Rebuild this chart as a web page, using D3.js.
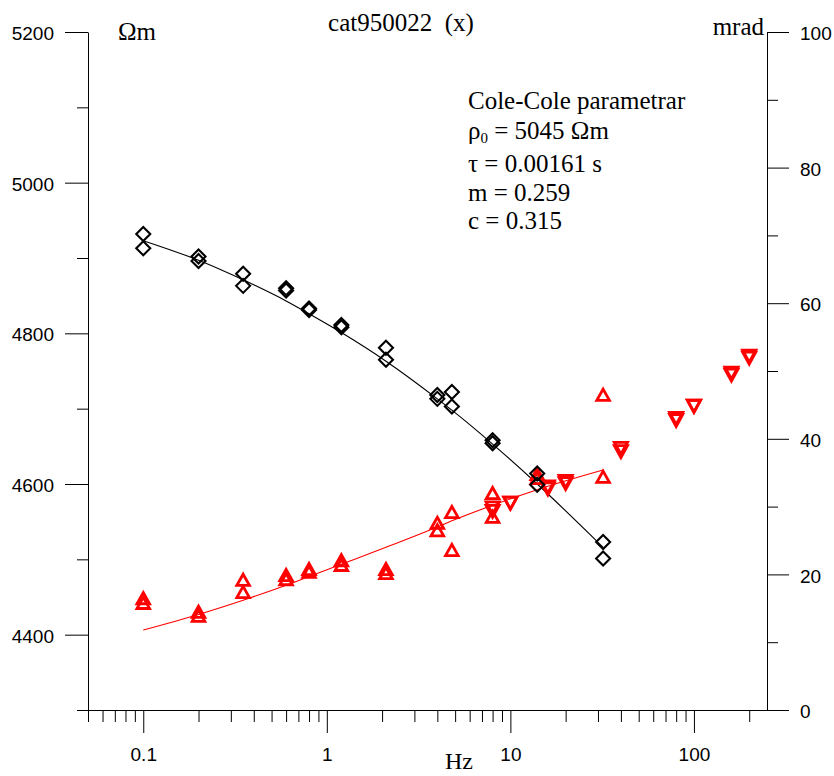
<!DOCTYPE html>
<html>
<head>
<meta charset="utf-8">
<script src="https://cdn.jsdelivr.net/npm/d3@7"></script>
<style>
  html, body { margin: 0; padding: 0; background: #fff; }
  svg { display: block; }
  .serif { font-family: "Liberation Serif", "Times New Roman", serif; }
  .tick text { font-family: "Liberation Sans", Arial, sans-serif; font-size: 19px; fill: #000; }
</style>
</head>
<body>
<svg id="chart" width="834" height="776"></svg>
<script>
// Measured frequencies (Hz) for the low-frequency sweep
const freqLow = [0.1, 0.2, 0.35, 0.6, 0.8, 1.2, 2.1, 4, 4.8, 8, 14, 32];
// Apparent resistivity (ohm-m), two readings per frequency
const rhoA = [4932, 4902, 4879, 4860, 4833, 4811, 4781, 4718, 4722, 4658, 4614, 4523];
const rhoB = [4913, 4896, 4863, 4857, 4831, 4808, 4765, 4713, 4703, 4654, 4599, 4501];
// Phase (mrad), two readings per frequency
const phaseUpA = [16.5, 14.5, 19.2, 19.9, 20.8, 22.1, 20.8, 27.6, 29.2, 32.0, 34.8, 46.5];
const phaseUpB = [15.8, 13.9, 17.4, 19.3, 20.4, 21.4, 20.2, 26.5, 23.6, 28.5, 34.2, 34.4];
// High-frequency sweep, phase only (mrad)
const freqHigh = [8, 10, 16, 20, 40, 80, 100, 160, 200];
const phaseDownA = [29.8, 30.5, 32.9, 33.7, 38.6, 43.0, 44.8, 49.7, 52.2];
const phaseDownB = [29.3, 30.5, 32.6, 33.4, 38.1, 42.7, 44.8, 49.4, 51.9];
// Cole-Cole fitted curve
const fitFreq = [0.1, 0.2, 0.35, 0.6, 0.8, 1.2, 2.1, 4, 4.8, 8, 14, 32];
const fitRho = [4923, 4897, 4871, 4843, 4826, 4801, 4763, 4713, 4698, 4653, 4600, 4516];
const fitPhase = [11.8, 14.1, 16.2, 18.4, 19.7, 21.5, 24.0, 27.0, 27.9, 30.2, 32.5, 35.4];
// Axis ticks
const xMajor = [0.1, 1, 10, 100];
const xMajorLabels = ["0.1", "1", "10", "100"];
const xMinor = [0.05, 0.06, 0.07, 0.08, 0.09, 0.2, 0.3, 0.4, 0.5, 0.6, 0.7, 0.8, 0.9,
                2, 3, 4, 5, 6, 7, 8, 9, 20, 30, 40, 50, 60, 70, 80, 90, 200];
const leftMajor = [4400, 4600, 4800, 5000, 5200];
const leftMinor = [4300, 4500, 4700, 4900, 5100];
const rightMajor = [0, 20, 40, 60, 80, 100];
const rightMinor = [10, 30, 50, 70, 90];
// Fit parameters text
const paramTitle = "Cole-Cole parametrar";
const paramRho = "5045";
const paramTau = "0.00161";
const paramM = "0.259";
const paramC = "0.315";

const svg = d3.select("#chart");
const X0 = 88, X1 = 767, Y0 = 710, Y1 = 32;

const x = d3.scaleLog().domain([0.05, 250]).range([X0, X1]);
const yL = d3.scaleLinear().domain([4300, 5200]).range([Y0, Y1]);
const yR = d3.scaleLinear().domain([0, 100]).range([Y0, Y1]);

function styleAxis(g) {
  g.selectAll("path.domain").attr("stroke", "#000").attr("stroke-width", 1);
  g.selectAll(".tick line").attr("stroke", "#000").attr("stroke-width", 1);
}

// Left axis (resistivity)
svg.append("g").attr("transform", `translate(${X0},0)`)
  .call(d3.axisLeft(yL).tickValues(leftMinor).tickSize(11).tickSizeOuter(0).tickFormat(""))
  .call(g => g.select(".domain").remove())
  .call(styleAxis);
svg.append("g").attr("transform", `translate(${X0},0)`)
  .call(d3.axisLeft(yL).tickValues(leftMajor).tickSize(23).tickSizeOuter(0).tickPadding(11).tickFormat(d3.format("d")))
  .call(styleAxis)
  .call(g => g.selectAll(".tick text").attr("dy", "0.4em"));

// Right axis (phase)
svg.append("g").attr("transform", `translate(${X1},0)`)
  .call(d3.axisRight(yR).tickValues(rightMinor).tickSize(11).tickSizeOuter(0).tickFormat(""))
  .call(g => g.select(".domain").remove())
  .call(styleAxis);
svg.append("g").attr("transform", `translate(${X1},0)`)
  .call(d3.axisRight(yR).tickValues(rightMajor).tickSize(22).tickSizeOuter(0).tickPadding(11).tickFormat(d3.format("d")))
  .call(styleAxis)
  .call(g => g.selectAll(".tick text").attr("dy", "0.4em"));

// Bottom axis (frequency, log)
svg.append("g").attr("transform", `translate(0,${Y0})`)
  .call(d3.axisBottom(x).tickValues(xMinor).tickSize(12).tickSizeOuter(0).tickFormat(""))
  .call(g => g.select(".domain").remove())
  .call(styleAxis);
svg.append("g").attr("transform", `translate(0,${Y0})`)
  .call(d3.axisBottom(x).tickValues(xMajor).tickSize(23).tickSizeOuter(0).tickPadding(15)
        .tickFormat((d, i) => xMajorLabels[i]))
  .call(styleAxis);

// Fitted curves
const lineRho = d3.line().x((d, i) => x(fitFreq[i])).y(d => yL(d)).curve(d3.curveMonotoneX);
const linePhase = d3.line().x((d, i) => x(fitFreq[i])).y(d => yR(d)).curve(d3.curveMonotoneX);
svg.append("path").attr("d", lineRho(fitRho)).attr("fill", "none").attr("stroke", "#000").attr("stroke-width", 1.1);
svg.append("path").attr("d", linePhase(fitPhase)).attr("fill", "none").attr("stroke", "#ff0000").attr("stroke-width", 1.1);

// Marker shapes
const diamond = (cx, cy) => { const s = 7; return `M${cx},${cy - s}L${cx + s},${cy}L${cx},${cy + s}L${cx - s},${cy}Z`; };
const triUp = (cx, cy) => { const w = 6.3, h = 5.6; return `M${cx},${cy - h}L${cx + w},${cy + h}L${cx - w},${cy + h}Z`; };
const triDown = (cx, cy) => { const w = 6.6, h = 6.0; return `M${cx - w},${cy - h}L${cx + w},${cy - h}L${cx},${cy + h}Z`; };

function drawMarkers(freqs, vals, yScale, shape, color, width) {
  svg.append("g").selectAll("path").data(vals).join("path")
    .attr("d", (d, i) => shape(x(freqs[i]), yScale(d)))
    .attr("fill", "none").attr("stroke", color).attr("stroke-width", width)
    .attr("stroke-linejoin", "miter");
}
drawMarkers(freqLow, phaseUpA, yR, triUp, "#ff0000", 2.8);
drawMarkers(freqLow, phaseUpB, yR, triUp, "#ff0000", 2.8);
drawMarkers(freqHigh, phaseDownA, yR, triDown, "#ff0000", 2.8);
drawMarkers(freqHigh, phaseDownB, yR, triDown, "#ff0000", 2.8);
drawMarkers(freqLow, rhoA, yL, diamond, "#000", 2.1);
drawMarkers(freqLow, rhoB, yL, diamond, "#000", 2.1);

// Titles and units
const serifText = (tx, ty, str, size, anchor) => svg.append("text")
  .attr("class", "serif").attr("x", tx).attr("y", ty)
  .attr("font-size", size).attr("text-anchor", anchor || "start")
  .style("white-space", "pre").text(str);

serifText(401, 31, "cat950022  (x)", 25, "middle");
serifText(118, 40, "\u03A9m", 25);
serifText(764, 35, "mrad", 25, "end");
serifText(445, 769, "Hz", 24);

// Parameter block
const px = 468;
serifText(px, 109, paramTitle, 25);
const rhoLine = svg.append("text").attr("class", "serif").attr("x", px).attr("y", 139).attr("font-size", 25);
rhoLine.append("tspan").text("\u03C1");
rhoLine.append("tspan").attr("font-size", 15).attr("dy", 4).text("0");
rhoLine.append("tspan").attr("dy", -4).text(` = ${paramRho} \u03A9m`);
serifText(px, 172, `\u03C4 = ${paramTau} s`, 25);
serifText(px, 201, `m = ${paramM}`, 25);
serifText(px, 229, `c = ${paramC}`, 25);
</script>
</body>
</html>
